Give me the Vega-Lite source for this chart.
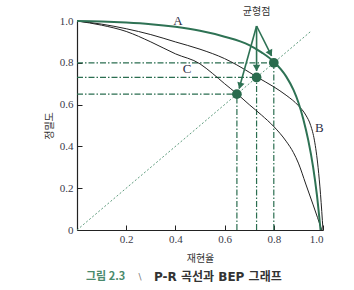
{
  "$schema": "https://vega.github.io/schema/vega-lite/v6.json",
  "width": 246,
  "height": 209,
  "autosize": {"type": "none"},
  "padding": {"left": 77, "top": 21, "right": 31, "bottom": 60},
  "background": "white",
  "config": {"view": {"stroke": null}},
  "encoding": {
    "x": {"field": "x", "type": "quantitative", "scale": {"domain": [0, 1], "nice": false, "zero": false},
      "axis": {"title": "재현율", "values": [0.2, 0.4, 0.6, 0.8, 1.0], "format": ".1f", "grid": false,
        "domainColor": "#222", "domainWidth": 1.2, "tickColor": "#222", "tickSize": -5, "labelPadding": 8,
        "labelFont": "Liberation Serif", "labelFontSize": 11, "labelColor": "#3a3a4a",
        "titleFont": "Noto Sans CJK KR", "titleFontSize": 10, "titleFontWeight": "normal", "titleColor": "#333", "titlePadding": 9}},
    "y": {"field": "y", "type": "quantitative", "scale": {"domain": [0, 1], "nice": false, "zero": false},
      "axis": {"title": "정밀도", "values": [0, 0.2, 0.4, 0.6, 0.8, 1.0], "labelExpr": "datum.value == 0 ? '0' : format(datum.value, '.1f')", "grid": false,
        "domainColor": "#222", "domainWidth": 1.2, "tickColor": "#222", "tickSize": -5, "labelPadding": 9,
        "labelFont": "Liberation Serif", "labelFontSize": 11, "labelColor": "#3a3a4a",
        "titleFont": "Noto Sans CJK KR", "titleFontSize": 10, "titleFontWeight": "normal", "titleColor": "#333", "titlePadding": 5}}
  },
  "layer": [
    {
      "data": {"values": [{"x": 0, "y": 0}, {"x": 0.95, "y": 0.95}]},
      "mark": {"type": "line", "color": "#5f9c7e", "strokeWidth": 1, "strokeDash": [2, 2]}
    },
    {
      "data": {"values": [
        {"x": 0, "y": 0.65, "x2": 0.65, "y2": 0.65},
        {"x": 0, "y": 0.73, "x2": 0.73, "y2": 0.73},
        {"x": 0, "y": 0.8, "x2": 0.8, "y2": 0.8},
        {"x": 0.65, "y": 0, "x2": 0.65, "y2": 0.65},
        {"x": 0.73, "y": 0, "x2": 0.73, "y2": 0.73},
        {"x": 0.8, "y": 0, "x2": 0.8, "y2": 0.8}
      ]},
      "mark": {"type": "rule", "color": "#2b6e50", "strokeWidth": 1.2, "strokeDash": [6, 2, 1.5, 2]},
      "encoding": {"x2": {"field": "x2"}, "y2": {"field": "y2"}}
    },
    {
      "data": {"values": [
        {"c": "B", "x": 0, "y": 1}, {"c": "B", "x": 0.1, "y": 0.985}, {"c": "B", "x": 0.2, "y": 0.963}, {"c": "B", "x": 0.3, "y": 0.935},
        {"c": "B", "x": 0.4, "y": 0.9}, {"c": "B", "x": 0.5, "y": 0.865}, {"c": "B", "x": 0.6, "y": 0.82}, {"c": "B", "x": 0.7, "y": 0.755},
        {"c": "B", "x": 0.73, "y": 0.733}, {"c": "B", "x": 0.8, "y": 0.685}, {"c": "B", "x": 0.85, "y": 0.645}, {"c": "B", "x": 0.9, "y": 0.595},
        {"c": "B", "x": 0.93, "y": 0.55}, {"c": "B", "x": 0.95, "y": 0.5}, {"c": "B", "x": 0.965, "y": 0.43}, {"c": "B", "x": 0.98, "y": 0.3},
        {"c": "B", "x": 0.99, "y": 0.17}, {"c": "B", "x": 1.0, "y": 0},
        {"c": "C", "x": 0, "y": 1}, {"c": "C", "x": 0.1, "y": 0.98}, {"c": "C", "x": 0.2, "y": 0.95}, {"c": "C", "x": 0.3, "y": 0.9},
        {"c": "C", "x": 0.4, "y": 0.843}, {"c": "C", "x": 0.5, "y": 0.795}, {"c": "C", "x": 0.55, "y": 0.75}, {"c": "C", "x": 0.6, "y": 0.7},
        {"c": "C", "x": 0.65, "y": 0.652}, {"c": "C", "x": 0.7, "y": 0.6}, {"c": "C", "x": 0.75, "y": 0.55}, {"c": "C", "x": 0.8, "y": 0.495},
        {"c": "C", "x": 0.85, "y": 0.425}, {"c": "C", "x": 0.88, "y": 0.37}, {"c": "C", "x": 0.9, "y": 0.32}, {"c": "C", "x": 0.93, "y": 0.22},
        {"c": "C", "x": 0.96, "y": 0.12}, {"c": "C", "x": 0.995, "y": 0}
      ]},
      "mark": {"type": "line", "color": "#222", "strokeWidth": 1, "interpolate": "monotone"},
      "encoding": {"detail": {"field": "c"}}
    },
    {
      "data": {"values": [
        {"x": 0, "y": 1}, {"x": 0.1, "y": 0.998}, {"x": 0.2, "y": 0.993}, {"x": 0.3, "y": 0.985}, {"x": 0.4, "y": 0.972},
        {"x": 0.5, "y": 0.953}, {"x": 0.6, "y": 0.925}, {"x": 0.7, "y": 0.885}, {"x": 0.75, "y": 0.85}, {"x": 0.8, "y": 0.805},
        {"x": 0.85, "y": 0.735}, {"x": 0.88, "y": 0.67}, {"x": 0.9, "y": 0.61}, {"x": 0.92, "y": 0.53}, {"x": 0.94, "y": 0.43},
        {"x": 0.96, "y": 0.3}, {"x": 0.975, "y": 0.17}, {"x": 0.99, "y": 0}
      ]},
      "mark": {"type": "line", "color": "#2e7254", "strokeWidth": 2, "interpolate": "monotone"}
    },
    {
      "data": {"values": [
        {"x": 0.73, "y": 0.976, "x2": 0.659, "y2": 0.677},
        {"x": 0.73, "y": 0.976, "x2": 0.73, "y2": 0.761},
        {"x": 0.73, "y": 0.976, "x2": 0.791, "y2": 0.833}
      ]},
      "mark": {"type": "rule", "color": "#2e7254", "strokeWidth": 1.6},
      "encoding": {"x2": {"field": "x2"}, "y2": {"field": "y2"}}
    },
    {
      "data": {"values": [
        {"x": 0.663, "y": 0.69, "a": 195.5},
        {"x": 0.73, "y": 0.775, "a": 180},
        {"x": 0.786, "y": 0.845, "a": 153.4}
      ]},
      "mark": {"type": "point", "shape": "triangle-up", "filled": true, "color": "#2e7254", "size": 55, "opacity": 1},
      "encoding": {"angle": {"field": "a", "type": "quantitative", "scale": null}}
    },
    {
      "data": {"values": [{"x": 0.65, "y": 0.65}, {"x": 0.73, "y": 0.73}, {"x": 0.8, "y": 0.8}]},
      "mark": {"type": "circle", "color": "#2a6b4d", "size": 95, "opacity": 1}
    },
    {
      "data": {"values": [
        {"x": 0.41, "y": 1.0, "t": "A"},
        {"x": 0.985, "y": 0.49, "t": "B"},
        {"x": 0.447, "y": 0.77, "t": "C"}
      ]},
      "mark": {"type": "text", "font": "Liberation Serif", "fontSize": 13, "color": "#2f2f45", "align": "center", "baseline": "middle"},
      "encoding": {"text": {"field": "t"}}
    },
    {
      "data": {"values": [{"x": 0.73, "y": 1.045, "t": "균형점"}]},
      "mark": {"type": "text", "font": "Noto Sans CJK KR", "fontSize": 10, "color": "#333", "align": "center", "baseline": "middle"},
      "encoding": {"text": {"field": "t"}}
    },
    {
      "data": {"values": [{"x": 0.196, "y": -0.226, "t": "그림 2.3"}]},
      "mark": {"type": "text", "font": "Noto Sans CJK KR", "fontSize": 11, "fontWeight": "bold", "color": "#4a8a6c", "align": "right", "baseline": "middle"},
      "encoding": {"text": {"field": "t"}}
    },
    {
      "data": {"values": [{"x": 0.256, "y": -0.226, "t": "\\"}]},
      "mark": {"type": "text", "font": "DejaVu Sans", "fontSize": 9, "fontWeight": "normal", "color": "#777", "align": "center", "baseline": "middle"},
      "encoding": {"text": {"field": "t"}}
    },
    {
      "data": {"values": [{"x": 0.313, "y": -0.226, "t": "P-R 곡선과 BEP 그래프"}]},
      "mark": {"type": "text", "font": "DejaVu Sans, Noto Sans CJK KR", "fontSize": 12, "fontWeight": "bold", "color": "#333", "align": "left", "baseline": "middle"},
      "encoding": {"text": {"field": "t"}}
    }
  ]
}
